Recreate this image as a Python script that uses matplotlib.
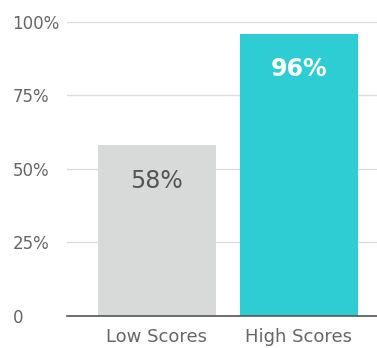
import matplotlib.pyplot as plt
import numpy as np

# Data
categories = ['Low Scores', 'High Scores']
values = [58, 96]
bar_colors = ['#d8d9d9', '#2dcdd3']
label_colors = ['#555555', '#ffffff']
label_weights = ['normal', 'bold']
y_ticks = [0, 25, 50, 75, 100]
y_tick_labels = ['0', '25%', '50%', '75%', '100%']

fig = plt.figure(figsize=(3.77, 3.48), dpi=100)
ax = fig.add_axes([0.177, 0.093, 0.823, 0.844])

x = np.arange(len(categories))
ax.bar(x, values, width=0.83, color=bar_colors, zorder=2)

# Value labels inside the bars
for xi, v, c, w in zip(x, values, label_colors, label_weights):
    ax.text(xi, v - 12, f'{v}%', ha='center', va='center',
            color=c, fontsize=17, fontweight=w, zorder=3)

ax.set_xlim(-0.636, 1.55)
ax.set_ylim(0, 100)
ax.set_xticks(x)
ax.set_xticklabels(categories, fontsize=13, color='#666666')
ax.set_yticks(y_ticks)
ax.set_yticklabels(y_tick_labels, fontsize=12, color='#666666', ha='left')
ax.tick_params(axis='y', length=0, pad=39)
ax.tick_params(axis='x', length=0, pad=9)

# Gridlines
ax.grid(axis='y', color='#dddddd', linewidth=1, zorder=0)
ax.set_axisbelow(True)

for side in ['top', 'right', 'left']:
    ax.spines[side].set_visible(False)
ax.spines['bottom'].set_color('#555555')
ax.spines['bottom'].set_linewidth(1.2)
ax.spines['bottom'].set_zorder(4)

fig.savefig('out.png', dpi=100)
